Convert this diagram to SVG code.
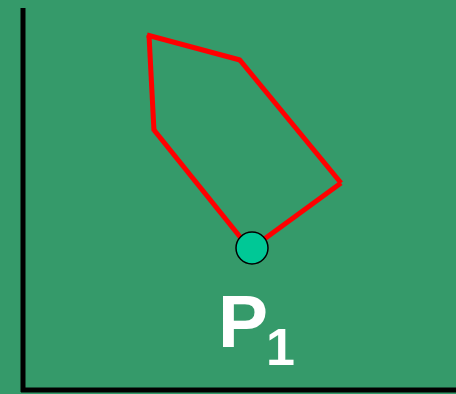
<svg xmlns="http://www.w3.org/2000/svg" width="456" height="394" viewBox="0 0 456 394">
<style>
.edge{stroke:#ff0000;stroke-width:5;fill:none;stroke-linecap:butt}
.axis{stroke:#000;stroke-width:5;fill:none}
.lbl{font-family:"Liberation Sans",Arial,sans-serif;font-weight:bold;fill:#fff}
</style>
<rect width="456" height="394" fill="#359a6a"/>
<g id="axes">
<line class="axis" x1="23" y1="8" x2="23" y2="392"/>
<line class="axis" x1="21" y1="390" x2="456" y2="390"/>
</g>
<g id="connectors">
<line class="edge" x1="252" y1="248" x2="341" y2="183"/>
<line class="edge" x1="341" y1="183" x2="239" y2="59"/>
<line class="edge" x1="240" y1="60" x2="147" y2="35"/>
<line class="edge" x1="149" y1="35" x2="154" y2="131"/>
<line class="edge" x1="154" y1="130" x2="245" y2="243"/>
</g>
<g id="p1">
<circle cx="252" cy="248" r="16" fill="#00c896" stroke="#000" stroke-width="1.5"/>
<text class="lbl" x="218" y="347" font-size="75">P</text>
<text class="lbl" x="266" y="365" font-size="52">1</text>
</g>
</svg>
